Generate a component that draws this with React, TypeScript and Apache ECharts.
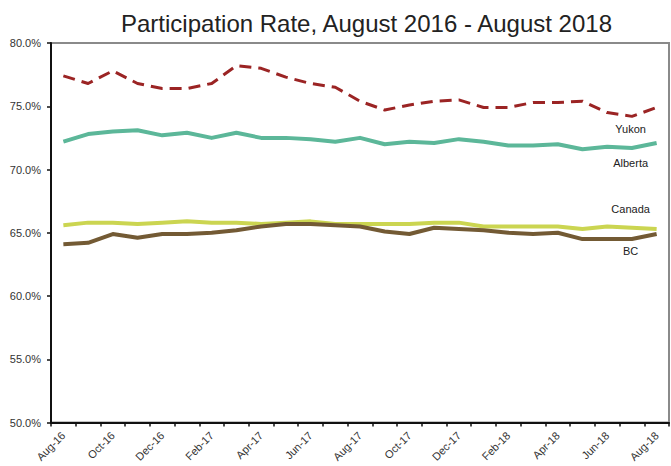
import React, { useEffect, useRef } from "react";
import * as echarts from "echarts";

const months = [
  "Aug-16", "Sep-16", "Oct-16", "Nov-16", "Dec-16", "Jan-17", "Feb-17", "Mar-17", "Apr-17",
  "May-17", "Jun-17", "Jul-17", "Aug-17", "Sep-17", "Oct-17", "Nov-17", "Dec-17", "Jan-18",
  "Feb-18", "Mar-18", "Apr-18", "May-18", "Jun-18", "Jul-18", "Aug-18",
];

const yukon = [77.4, 76.8, 77.8, 76.8, 76.4, 76.4, 76.8, 78.2, 78.0, 77.3, 76.8, 76.5, 75.4,
  74.7, 75.1, 75.4, 75.5, 74.9, 74.9, 75.3, 75.3, 75.4, 74.5, 74.2, 74.9];
const alberta = [72.2, 72.8, 73.0, 73.1, 72.7, 72.9, 72.5, 72.9, 72.5, 72.5, 72.4, 72.2, 72.5,
  72.0, 72.2, 72.1, 72.4, 72.2, 71.9, 71.9, 72.0, 71.6, 71.8, 71.7, 72.1];
const canada = [65.6, 65.8, 65.8, 65.7, 65.8, 65.9, 65.8, 65.8, 65.7, 65.8, 65.9, 65.7, 65.7,
  65.7, 65.7, 65.8, 65.8, 65.5, 65.5, 65.5, 65.5, 65.3, 65.5, 65.4, 65.3];
const bc = [64.1, 64.2, 64.9, 64.6, 64.9, 64.9, 65.0, 65.2, 65.5, 65.7, 65.7, 65.6, 65.5,
  65.1, 64.9, 65.4, 65.3, 65.2, 65.0, 64.9, 65.0, 64.5, 64.5, 64.5, 64.9];

const yTicks = { min: 50, max: 80, interval: 5 };
const titleText = "Participation Rate, August 2016 - August 2018";

export default function App() {
  const ref = useRef<HTMLDivElement>(null);
  useEffect(() => {
    if (!ref.current) return;
    const chart = echarts.init(ref.current, undefined, { renderer: "svg" });
    const font = "Liberation Sans, Arial, sans-serif";
    const endLabel = (text: string, dy: number) => ({
      show: true,
      formatter: text,
      fontFamily: font,
      fontSize: 11,
      color: "#222",
      align: "center",
      verticalAlign: "middle",
      offset: [-34, dy],
    });
    const mk = (name: string, data: number[], color: string, width: number, dy: number, dashed = false) => ({
      name,
      type: "line",
      data,
      symbol: "none",
      smooth: false,
      lineStyle: { color, width, type: dashed ? [12, 7] : "solid", cap: "butt", join: "round" },
      itemStyle: { color },
      endLabel: endLabel(name, dy),
      z: 3,
    });
    chart.setOption({
      animation: false,
      backgroundColor: "#fff",
      title: {
        text: titleText,
        left: 116,
        top: 6,
        textStyle: { fontFamily: font, fontSize: 24, fontWeight: "normal", color: "#222" },
      },
      grid: {
        left: 51,
        right: 2,
        top: 43,
        bottom: 43.5,
        show: true,
        borderColor: "#8a8a8a",
        borderWidth: 2,
      },
      xAxis: {
        type: "category",
        data: months,
        boundaryGap: true,
        axisLine: { show: true, lineStyle: { color: "#111", width: 2 } },
        axisTick: { show: true, interval: 0, length: 4, alignWithLabel: false, lineStyle: { color: "#111", width: 1.5 } },
        axisLabel: {
          interval: 1,
          rotate: 45,
          fontFamily: font,
          fontSize: 11,
          color: "#333",
          margin: 11,
        },
        splitLine: { show: false },
      },
      yAxis: {
        type: "value",
        min: yTicks.min,
        max: yTicks.max,
        interval: yTicks.interval,
        axisLine: { show: true, lineStyle: { color: "#111", width: 2 } },
        axisTick: { show: true, length: 4, lineStyle: { color: "#111", width: 1.5 } },
        axisLabel: {
          formatter: (v: number) => v.toFixed(1) + "%",
          fontFamily: font,
          fontSize: 11,
          color: "#333",
          margin: 10,
        },
        splitLine: { show: false },
      },
      series: [
        mk("Yukon", yukon, "#9b2424", 3, 21, true),
        mk("Alberta", alberta, "#5cb799", 4, 20),
        mk("Canada", canada, "#cbd551", 4, -20),
        mk("BC", bc, "#735a34", 4, 17),
      ],
    });
    return () => chart.dispose();
  }, []);
  return <div ref={ref} style={{ width: 671, height: 466, position: "absolute", left: 0, top: 0 }} />;
}
